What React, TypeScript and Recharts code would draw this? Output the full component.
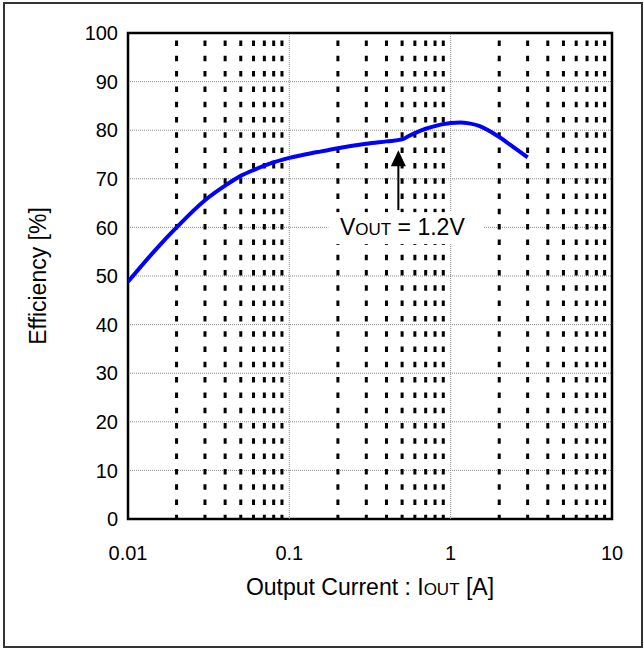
import React from "react";
import {
  LineChart, Line, XAxis, YAxis, CartesianGrid, ReferenceLine,
  ReferenceArea, ReferenceDot,
} from "recharts";

// output current [A]
const currents = [
  0.01, 0.015, 0.02, 0.03, 0.04, 0.05, 0.06, 0.07, 0.08, 0.09,
  0.1, 0.15, 0.2, 0.3, 0.4, 0.5, 0.55, 0.6, 0.7, 0.8, 0.9,
  1, 1.15, 1.3, 1.5, 2, 2.5, 3,
];
// efficiency [%]
const efficiency = [
  48.8, 55.6, 60.0, 65.6, 68.6, 70.6, 71.8, 72.7, 73.4, 73.9,
  74.3, 75.5, 76.3, 77.2, 77.7, 78.1, 78.8, 79.4, 80.3, 80.85, 81.25,
  81.5, 81.6, 81.4, 80.9, 78.6, 76.3, 74.4,
];

const xTicks = [0.01, 0.1, 1, 10];
const yTicks = [0, 10, 20, 30, 40, 50, 60, 70, 80, 90, 100];
const majorGrid = [0.1, 1];
const minorGrid = [
  0.02, 0.03, 0.04, 0.05, 0.06, 0.07, 0.08, 0.09,
  0.2, 0.3, 0.4, 0.5, 0.6, 0.7, 0.8, 0.9,
  2, 3, 4, 5, 6, 7, 8, 9,
];

const data = currents.map((c, i) => ({ current: c, eff: efficiency[i] }));

const FONT = "'Liberation Sans', Arial, sans-serif";

function XTitle({ viewBox }: any) {
  const { x, y, width } = viewBox;
  return (
    <text x={x + width / 2} y={y + 76} textAnchor="middle"
      fontFamily={FONT} fontSize={23} fill="#000">
      Output Current : I<tspan fontSize={17}>OUT</tspan> [A]
    </text>
  );
}

function YTitle({ viewBox }: any) {
  const { y, height } = viewBox;
  const cy = y + height / 2;
  return (
    <text x={46} y={cy} textAnchor="middle" transform={`rotate(-90 46 ${cy})`}
      fontFamily={FONT} fontSize={23} fill="#000">
      Efficiency [%]
    </text>
  );
}

// arrow + "VOUT = 1.2V" note, tip sits on the curve
function Note({ cx, cy }: any) {
  return (
    <g>
      <rect x={cx - 70} y={cy + 62} width={155} height={32} fill="#fff" />
      <polygon points={`${cx},${cy} ${cx - 7.5},${cy + 16} ${cx + 7.5},${cy + 16}`} fill="#000" />
      <line x1={cx} y1={cy + 14} x2={cx} y2={cy + 60} stroke="#000" strokeWidth={2} />
      <text x={cx + 4} y={cy + 85} textAnchor="middle" fontFamily={FONT} fontSize={23} fill="#000">
        V<tspan fontSize={17}>OUT</tspan> = 1.2V
      </text>
    </g>
  );
}

export default function App() {
  return (
    <div style={{ position: "absolute", left: 0, top: 0, width: 644, height: 648, background: "#fff" }}>
      <div style={{
        position: "absolute", left: 3, top: 2, width: 636, height: 642,
        border: "2px solid #333", pointerEvents: "none",
      }} />
      <LineChart width={644} height={648} data={data}
        margin={{ top: 33, right: 32, left: 0, bottom: 0 }}>
        <CartesianGrid vertical={false} stroke="#8a8a8a" strokeDasharray="1 1" />
        <XAxis
          dataKey="current"
          type="number"
          scale="log"
          domain={[0.01, 10]}
          ticks={xTicks}
          allowDataOverflow
          height={129}
          axisLine={false}
          tickLine={false}
          tickMargin={21}
          tick={{ fontSize: 20, fill: "#000", fontFamily: FONT }}
          label={<XTitle />}
        />
        <YAxis
          type="number"
          domain={[0, 100]}
          ticks={yTicks}
          width={128}
          axisLine={false}
          tickLine={false}
          tickMargin={4}
          tick={{ fontSize: 20, fill: "#000", fontFamily: FONT }}
          label={<YTitle />}
        />
        {majorGrid.map(v => (
          <ReferenceLine key={`M${v}`} x={v} stroke="#8a8a8a" strokeDasharray="1 1" />
        ))}
        {minorGrid.map(v => (
          <ReferenceLine key={`m${v}`} x={v} stroke="#000" strokeWidth={3}
            strokeDasharray="5.5 9.8" strokeDashoffset={1.3} />
        ))}
        <ReferenceArea x1={0.01} x2={10} y1={0} y2={100} fill="none"
          stroke="#000" strokeWidth={2.5} fillOpacity={0} />
        <Line type="monotone" dataKey="eff" stroke="#0000ff" strokeWidth={4}
          dot={false} isAnimationActive={false} />
        <ReferenceDot x={0.474} y={75.9} r={0} shape={<Note />} />
      </LineChart>
    </div>
  );
}
